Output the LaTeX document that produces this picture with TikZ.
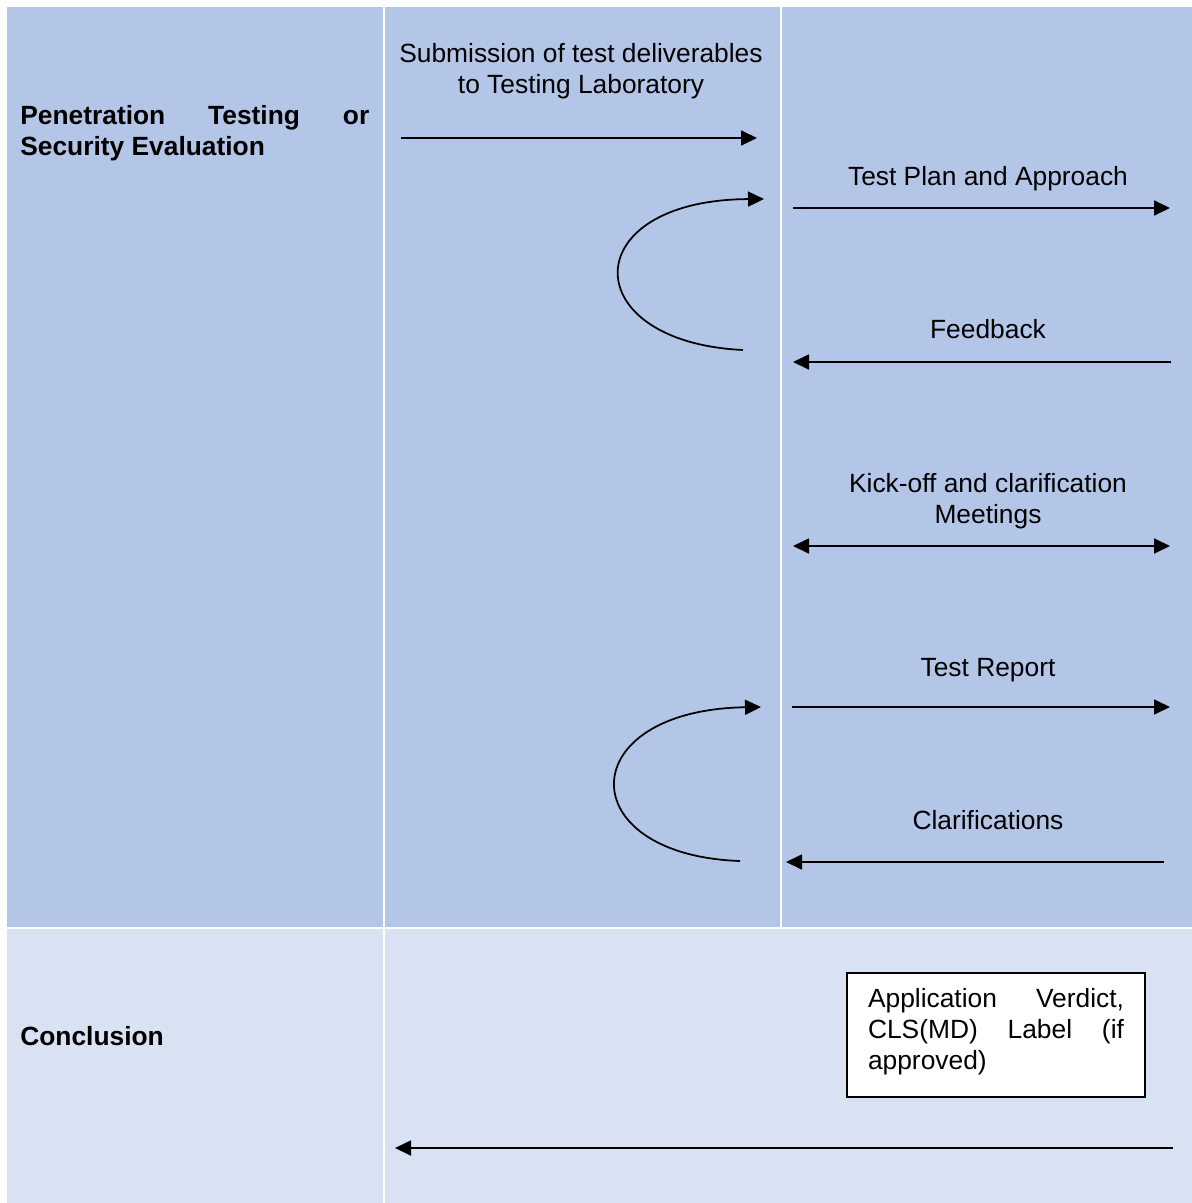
\documentclass[tikz,border=0pt]{standalone}
\usepackage{fontspec}
\setmainfont{Liberation Sans}
\usepackage{xcolor}
\usepackage{tikz}
\usetikzlibrary{arrows.meta,positioning}
\definecolor{cellblue}{RGB}{180,198,231}
\definecolor{celllight}{RGB}{217,226,243}

\begin{document}
\begin{tikzpicture}[x=0.02cm,y=-0.02cm,
    msg/.style={-{Triangle[length=0.32cm,width=0.3cm]}, line width=1pt},
    twoway/.style={{Triangle[length=0.32cm,width=0.3cm]}-{Triangle[length=0.32cm,width=0.3cm]}, line width=1pt},
    lbl/.style={align=center, font=\fontsize{15}{17.6}\selectfont, inner sep=0pt},
    phase/.style={anchor=west, align=left, inner sep=0pt, font=\bfseries\fontsize{15}{17.6}\selectfont}]
    \useasboundingbox (0,0) rectangle (1192,1203);
    % Table cells
    \fill[white] (0,0) rectangle (1192,1203);
    \fill[cellblue] (7,7) rectangle (383,927);
    \fill[cellblue] (385,7) rectangle (780,927);
    \fill[cellblue] (782,7) rectangle (1192,927);
    \fill[celllight] (7,929) rectangle (383,1203);
    \fill[celllight] (385,929) rectangle (1192,1203);
    % Phase labels
    \node[phase] (pentest) at (20,133) {\hbox to 6.98cm{Penetration\hfill Testing\hfill or}\\Security Evaluation};
    \node[phase] (concl) at (20,1036) {Conclusion};
    % Messages
    \node[lbl] (submit) at (581,71) {Submission of test deliverables\\to Testing Laboratory};
    \node[lbl] (plan) at (988,179) {Test Plan and Approach};
    \node[lbl] (feedback) at (988,329) {Feedback};
    \node[lbl] (kickoff) at (988,501) {Kick-off and clarification\\Meetings};
    \node[lbl] (report) at (988,670) {Test Report};
    \node[lbl] (clarif) at (988,820) {Clarifications};
    \node[draw, fill=white, line width=1pt, minimum width=5.96cm, minimum height=2.48cm,
          align=left, inner sep=0pt, font=\fontsize{15}{17.6}\selectfont] (verdict) at (996,1035)
          {\hbox to 5.12cm{Application\hfill Verdict,}\\\hbox to 5.12cm{CLS(MD)\hfill Label\hfill (if}\\approved)\vspace{4pt}};
    % Arrow end points
    \coordinate (s1) at (401,138);   \coordinate (s2) at (757,138);
    \coordinate (p1) at (793,208);   \coordinate (p2) at (1170,208);
    \coordinate (f1) at (1171,362);  \coordinate (f2) at (793,362);
    \coordinate (k1) at (793,546);   \coordinate (k2) at (1170,546);
    \coordinate (r1) at (792,707);   \coordinate (r2) at (1170,707);
    \coordinate (c1) at (1164,862);  \coordinate (c2) at (786,862);
    \coordinate (v1) at (1173,1148); \coordinate (v2) at (395,1148);
    \coordinate (loopa1) at (743,350); \coordinate (loopa2) at (764,199);
    \coordinate (loopb1) at (740,861); \coordinate (loopb2) at (761,707);
    \draw[msg] (s1) -- (s2);
    \draw[msg] (p1) -- (p2);
    \draw[msg] (f1) -- (f2);
    \draw[twoway] (k1) -- (k2);
    \draw[msg] (r1) -- (r2);
    \draw[msg] (c1) -- (c2);
    \draw[msg] (v1) -- (v2);
    % Review loops
    \draw[msg] (loopa1) .. controls (575,342) and (575,200) .. (loopa2);
    \draw[msg] (loopb1) .. controls (570,855) and (572,710) .. (loopb2);
\end{tikzpicture}
\end{document}
